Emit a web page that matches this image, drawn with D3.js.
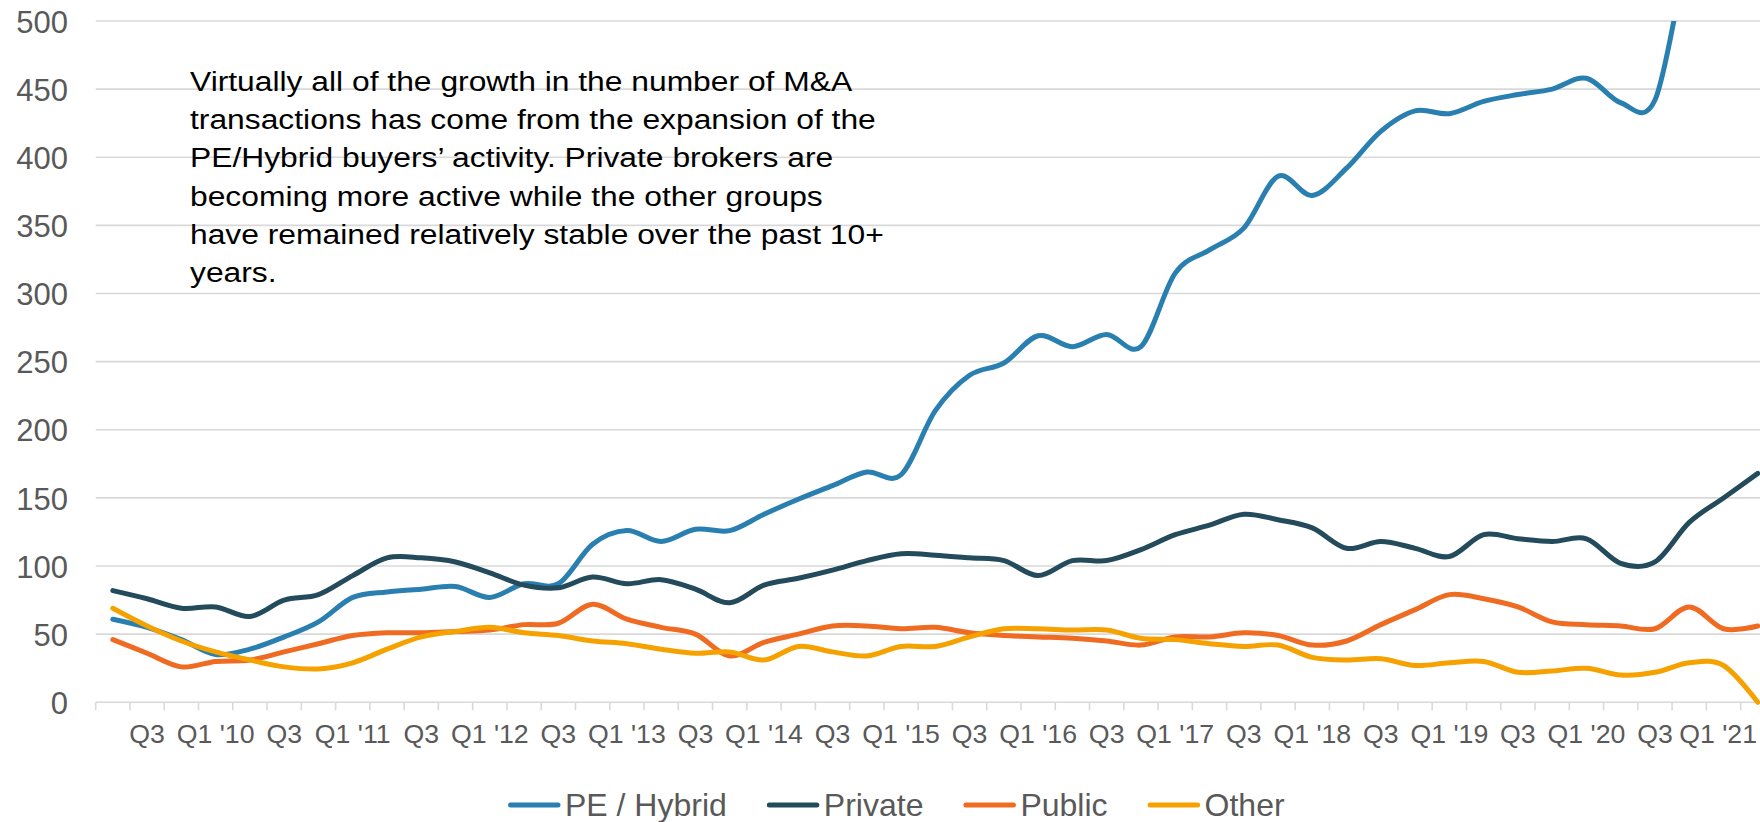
<!DOCTYPE html>
<html>
<head>
<meta charset="utf-8">
<script src="https://cdn.jsdelivr.net/npm/d3@7"></script>
<style>
  html, body { margin: 0; padding: 0; background: #fff; }
  svg { display: block; font-family: Arial, "Liberation Sans", sans-serif; }
</style>
</head>
<body>
<svg id="chart" width="1760" height="822"></svg>
<script>
// quarters, Q2 2009 .. Q2 2021
var categories = [
  "Q2 '09", "Q3 '09", "Q4 '09",
  "Q1 '10", "Q2 '10", "Q3 '10", "Q4 '10",
  "Q1 '11", "Q2 '11", "Q3 '11", "Q4 '11",
  "Q1 '12", "Q2 '12", "Q3 '12", "Q4 '12",
  "Q1 '13", "Q2 '13", "Q3 '13", "Q4 '13",
  "Q1 '14", "Q2 '14", "Q3 '14", "Q4 '14",
  "Q1 '15", "Q2 '15", "Q3 '15", "Q4 '15",
  "Q1 '16", "Q2 '16", "Q3 '16", "Q4 '16",
  "Q1 '17", "Q2 '17", "Q3 '17", "Q4 '17",
  "Q1 '18", "Q2 '18", "Q3 '18", "Q4 '18",
  "Q1 '19", "Q2 '19", "Q3 '19", "Q4 '19",
  "Q1 '20", "Q2 '20", "Q3 '20", "Q4 '20",
  "Q1 '21", "Q2 '21"
];

var peHybrid = [61, 55, 46, 35, 39, 48, 59, 77, 81, 83, 85, 77, 87, 87, 116, 126, 118, 127, 126, 138,
  149, 159, 169, 167, 214, 240, 249, 269, 261, 270, 261, 315, 332, 348, 386, 372, 392, 419, 434, 432,
  441, 446, 450, 458, 440, 442, 550, 590, 630];

var privateBuyers = [82, 76, 69, 70, 63, 75, 79, 93, 106, 106, 103, 95, 86, 84, 92, 87, 90, 83, 73, 86,
  91, 97, 104, 109, 108, 106, 104, 93, 104, 104, 112, 123, 130, 138, 134, 128, 113, 118, 113, 107,
  123, 120, 118, 120, 102, 103, 132, 150, 168];

var publicBuyers = [46, 36, 26, 30, 31, 37, 43, 49, 51, 51, 52, 53, 57, 58, 72, 61, 55, 50, 34, 44,
  50, 56, 56, 54, 55, 51, 49, 48, 47, 45, 42, 48, 48, 51, 49, 42, 45, 57, 68, 79,
  76, 70, 59, 57, 56, 54, 70, 54, 56];

var otherBuyers = [69, 56, 45, 37, 31, 26, 24.5, 29, 39, 48, 52, 55, 51, 49, 45, 43, 39, 36, 37, 31,
  41, 37, 34, 41, 41, 48, 54, 54, 53, 53, 47, 46, 43, 41, 42, 33, 31, 32, 27, 29,
  30, 22, 23, 25, 20, 22, 29, 27, 0];

var seriesNames = ["PE / Hybrid", "Private", "Public", "Other"];
var seriesColors = ["#2a7fb1", "#234b5b", "#ef6b22", "#f5a200"];
var yTicks = [0, 50, 100, 150, 200, 250, 300, 350, 400, 450, 500];

var noteLines = [
  "Virtually all of the growth in the number of M&A",
  "transactions has come from the expansion of the",
  "PE/Hybrid buyers\u2019 activity. Private brokers are",
  "becoming more active while the other groups",
  "have remained relatively stable over the past 10+",
  "years."
];

(function() {
  var width = 1760, height = 822;
  var plotLeft = 95.7, plotTop = 21, plotBottom = 702.3, step = 34.27;
  var plotRight = plotLeft + step * categories.length;

  var svg = d3.select("#chart");

  var x = d3.scaleBand().domain(categories).range([plotLeft, plotRight]).padding(0);
  var y = d3.scaleLinear().domain([0, 500]).range([plotBottom, plotTop]);
  function cx(c) { return x(c) + x.bandwidth() / 2; }

  // horizontal gridlines
  svg.append("g")
    .selectAll("line")
    .data(yTicks.filter(function(v) { return v > 0; }))
    .join("line")
    .attr("x1", plotLeft).attr("x2", width)
    .attr("y1", function(d) { return y(d); })
    .attr("y2", function(d) { return y(d); })
    .attr("stroke", "#d9d9d9").attr("stroke-width", 1.6);

  // y axis labels
  svg.append("g")
    .attr("transform", "translate(68,0)")
    .call(d3.axisLeft(y).tickValues(yTicks).tickSize(0).tickPadding(0))
    .call(function(g) { g.select(".domain").remove(); })
    .attr("font-size", 31).attr("font-family", null)
    .selectAll("text").attr("fill", "#595959").attr("dy", "0.36em");

  // category axis: baseline + tick marks between categories
  svg.append("line")
    .attr("x1", plotLeft).attr("x2", width)
    .attr("y1", plotBottom).attr("y2", plotBottom)
    .attr("stroke", "#d9d9d9").attr("stroke-width", 1.6);

  var bounds = categories.map(function(c) { return x(c); }).concat([plotRight]);
  svg.append("g")
    .selectAll("line")
    .data(bounds)
    .join("line")
    .attr("x1", function(d) { return d; }).attr("x2", function(d) { return d; })
    .attr("y1", plotBottom).attr("y2", plotBottom + 8)
    .attr("stroke", "#d9d9d9").attr("stroke-width", 1.6);

  var labelled = categories.filter(function(c) { return c.indexOf("Q1") === 0 || c.indexOf("Q3") === 0; });
  var xLabels = svg.append("g")
    .attr("transform", "translate(0," + plotBottom + ")")
    .call(d3.axisBottom(x).tickValues(labelled)
      .tickFormat(function(c) { return c.indexOf("Q3") === 0 ? "Q3" : c; })
      .tickSize(0).tickPadding(0))
    .call(function(g) { g.select(".domain").remove(); })
    .attr("font-size", 26.7).attr("font-family", null)
    .selectAll("text").attr("fill", "#595959").attr("y", 40.5).attr("dy", 0);

  // keep the last label inside the picture, like the original does
  xLabels.each(function(c) {
    var w = this.getComputedTextLength();
    var over = cx(c) + w / 2 - (width - 3);
    if (over > 0) d3.select(this).attr("x", -over);
  });

  // annotation
  var note = svg.append("g");
  noteLines.forEach(function(t, i) {
    note.append("text")
      .attr("transform", "translate(190," + (90.7 + i * 38.27) + ") scale(1.136,1)")
      .attr("font-size", 28)
      .attr("fill", "#000")
      .text(t);
  });

  // series lines, clipped at the top of the plot area
  svg.append("clipPath").attr("id", "plotclip")
    .append("rect").attr("x", 0).attr("y", plotTop).attr("width", width).attr("height", height - plotTop);

  var allSeries = [peHybrid, privateBuyers, publicBuyers, otherBuyers];
  var line = d3.line()
    .x(function(d, i) { return cx(categories[i]); })
    .y(function(d) { return y(d); })
    .curve(d3.curveCatmullRom.alpha(0));

  svg.append("g").attr("clip-path", "url(#plotclip)")
    .selectAll("path")
    .data(allSeries)
    .join("path")
    .attr("d", line)
    .attr("fill", "none")
    .attr("stroke", function(d, i) { return seriesColors[i]; })
    .attr("stroke-width", 5)
    .attr("stroke-linecap", "round")
    .attr("stroke-linejoin", "round");

  // legend
  var legend = svg.append("g");
  var lx = 508;
  seriesNames.forEach(function(name, i) {
    legend.append("line")
      .attr("x1", lx + 2.5).attr("x2", lx + 50)
      .attr("y1", 805).attr("y2", 805)
      .attr("stroke", seriesColors[i]).attr("stroke-width", 5)
      .attr("stroke-linecap", "round");
    var t = legend.append("text")
      .attr("x", lx + 57).attr("y", 816)
      .attr("font-size", 32).attr("fill", "#595959")
      .text(name);
    lx = lx + 57 + t.node().getComputedTextLength() + 40;
  });
})();
</script>
</body>
</html>
